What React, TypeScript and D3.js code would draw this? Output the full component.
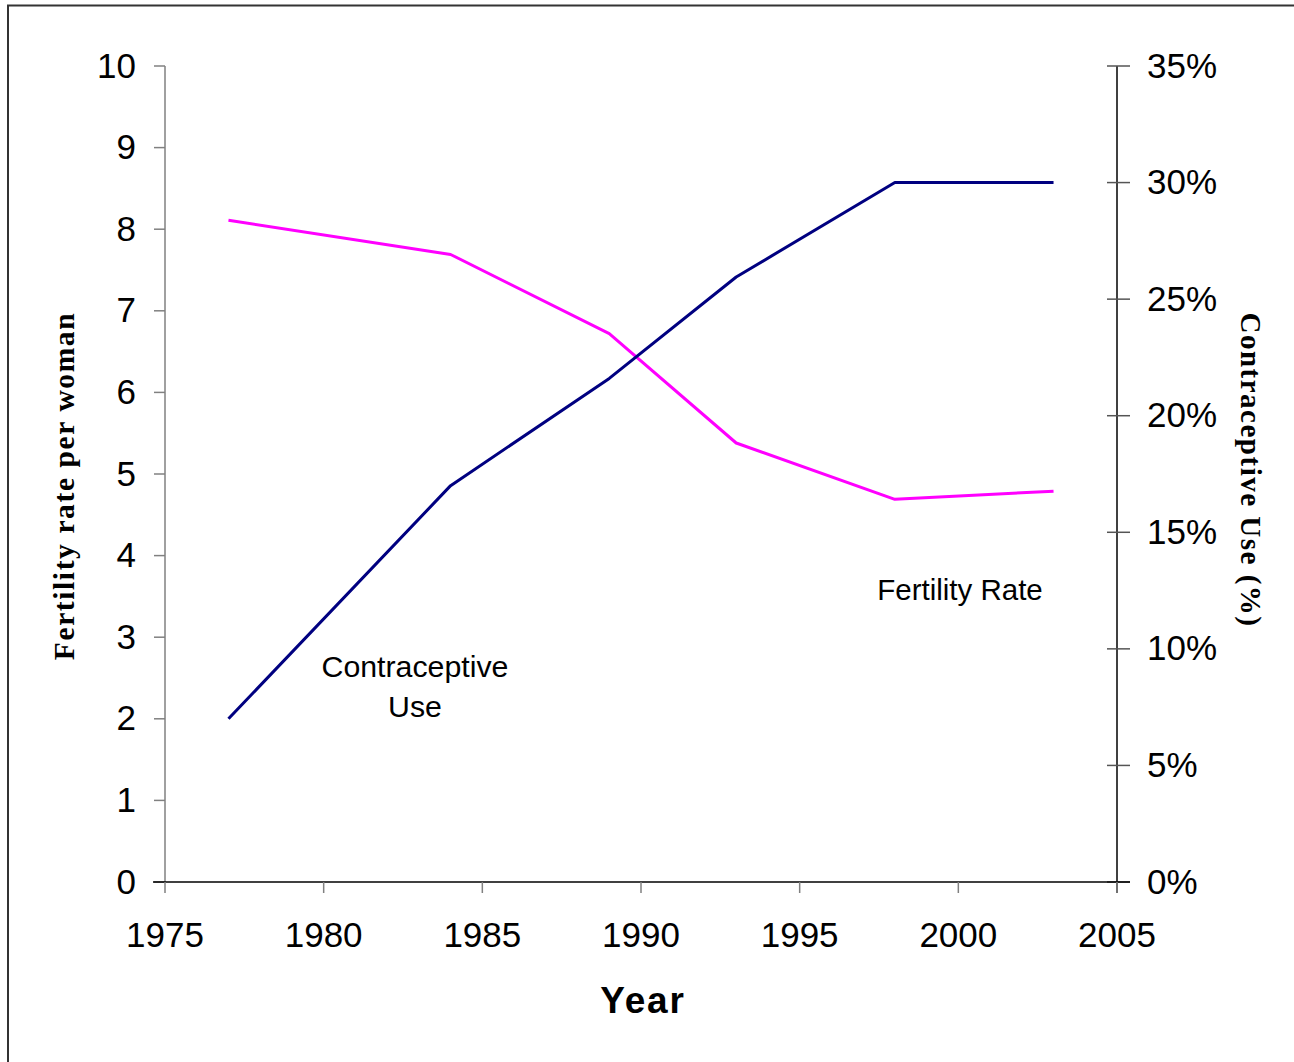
import React from "react";
import * as d3 from "d3";

const years = [1977, 1984, 1989, 1993, 1998, 2003];
const fertilityRate = [8.11, 7.69, 6.72, 5.38, 4.69, 4.79];
const contraceptiveUse = [7.0, 17.0, 21.6, 25.95, 30.0, 30.0];
const xTicks = [1975, 1980, 1985, 1990, 1995, 2000, 2005];
const leftTicks = [0, 1, 2, 3, 4, 5, 6, 7, 8, 9, 10];
const rightTicks = [0, 5, 10, 15, 20, 25, 30, 35];

const W = 1294;
const H = 1062;
const left = 165;
const right = 1117;
const top = 66;
const bottom = 882;

export default function App() {
  const x = d3.scaleLinear().domain([1975, 2005]).range([left, right]);
  const yL = d3.scaleLinear().domain([0, 10]).range([bottom, top]);
  const yR = d3.scaleLinear().domain([0, 35]).range([bottom, top]);

  const fertLine = d3
    .line<number>()
    .x((_, i) => x(years[i]))
    .y((d) => yL(d));
  const contraLine = d3
    .line<number>()
    .x((_, i) => x(years[i]))
    .y((d) => yR(d));

  const sans = "Arial, 'Liberation Sans', sans-serif";
  const serif = "'Times New Roman', 'Liberation Serif', serif";

  return (
    <svg
      width={W}
      height={H}
      style={{ position: "absolute", left: 0, top: 0, background: "#fff" }}
    >
      <rect x={8} y={5.5} width={1300} height={1070} fill="#fff" stroke="#333" strokeWidth={2} />

      {/* left axis */}
      <line x1={left} x2={left} y1={top} y2={bottom} stroke="#808080" strokeWidth={1.5} />
      {leftTicks.map((t) => (
        <g key={"l" + t}>
          <line x1={left - 11} x2={left} y1={yL(t)} y2={yL(t)} stroke="#808080" strokeWidth={1.5} />
          <text x={136} y={yL(t) + 11.5} textAnchor="end" fontFamily={sans} fontSize={35} fill="#000">
            {t}
          </text>
        </g>
      ))}

      {/* right axis */}
      <line x1={right} x2={right} y1={top} y2={bottom + 11} stroke="#000" strokeWidth={1.5} />
      {rightTicks.map((t) => (
        <g key={"r" + t}>
          <line x1={right - 10} x2={right + 13} y1={yR(t)} y2={yR(t)} stroke="#555" strokeWidth={1.5} />
          <text x={1147} y={yR(t) + 11.5} textAnchor="start" fontFamily={sans} fontSize={35} fill="#000">
            {t + "%"}
          </text>
        </g>
      ))}

      {/* x axis */}
      <line x1={left - 12} x2={right + 13} y1={bottom} y2={bottom} stroke="#000" strokeWidth={1.5} />
      {xTicks.map((t) => (
        <g key={"x" + t}>
          <line x1={x(t)} x2={x(t)} y1={bottom} y2={bottom + 11} stroke="#808080" strokeWidth={1.5} />
          <text x={x(t)} y={947} textAnchor="middle" fontFamily={sans} fontSize={35} fill="#000">
            {t}
          </text>
        </g>
      ))}

      {/* lines */}
      <path d={fertLine(fertilityRate) || ""} fill="none" stroke="#FF00FF" strokeWidth={3} strokeLinejoin="round" />
      <path d={contraLine(contraceptiveUse) || ""} fill="none" stroke="#000080" strokeWidth={3} strokeLinejoin="round" />

      {/* annotations */}
      <text x={960} y={600} textAnchor="middle" fontFamily={sans} fontSize={29.5} fill="#000">
        Fertility Rate
      </text>
      <text x={415} y={677} textAnchor="middle" fontFamily={sans} fontSize={30.3} fill="#000">
        Contraceptive
      </text>
      <text x={415} y={717} textAnchor="middle" fontFamily={sans} fontSize={30.3} fill="#000">
        Use
      </text>

      {/* titles */}
      <text x={643} y={1013} textAnchor="middle" fontFamily={sans} fontSize={37} fontWeight="bold" letterSpacing={1.8} fill="#000">
        Year
      </text>
      <text
        transform={`translate(74,486) rotate(-90)`}
        textAnchor="middle"
        fontFamily={serif}
        fontSize={29.5}
        fontWeight="bold"
        letterSpacing={1.6}
        fill="#000"
      >
        Fertility rate per woman
      </text>
      <text
        transform={`translate(1241,470) rotate(90)`}
        textAnchor="middle"
        fontFamily={serif}
        fontSize={29}
        fontWeight="bold"
        letterSpacing={1.5}
        fill="#000"
      >
        Contraceptive Use (%)
      </text>
    </svg>
  );
}
